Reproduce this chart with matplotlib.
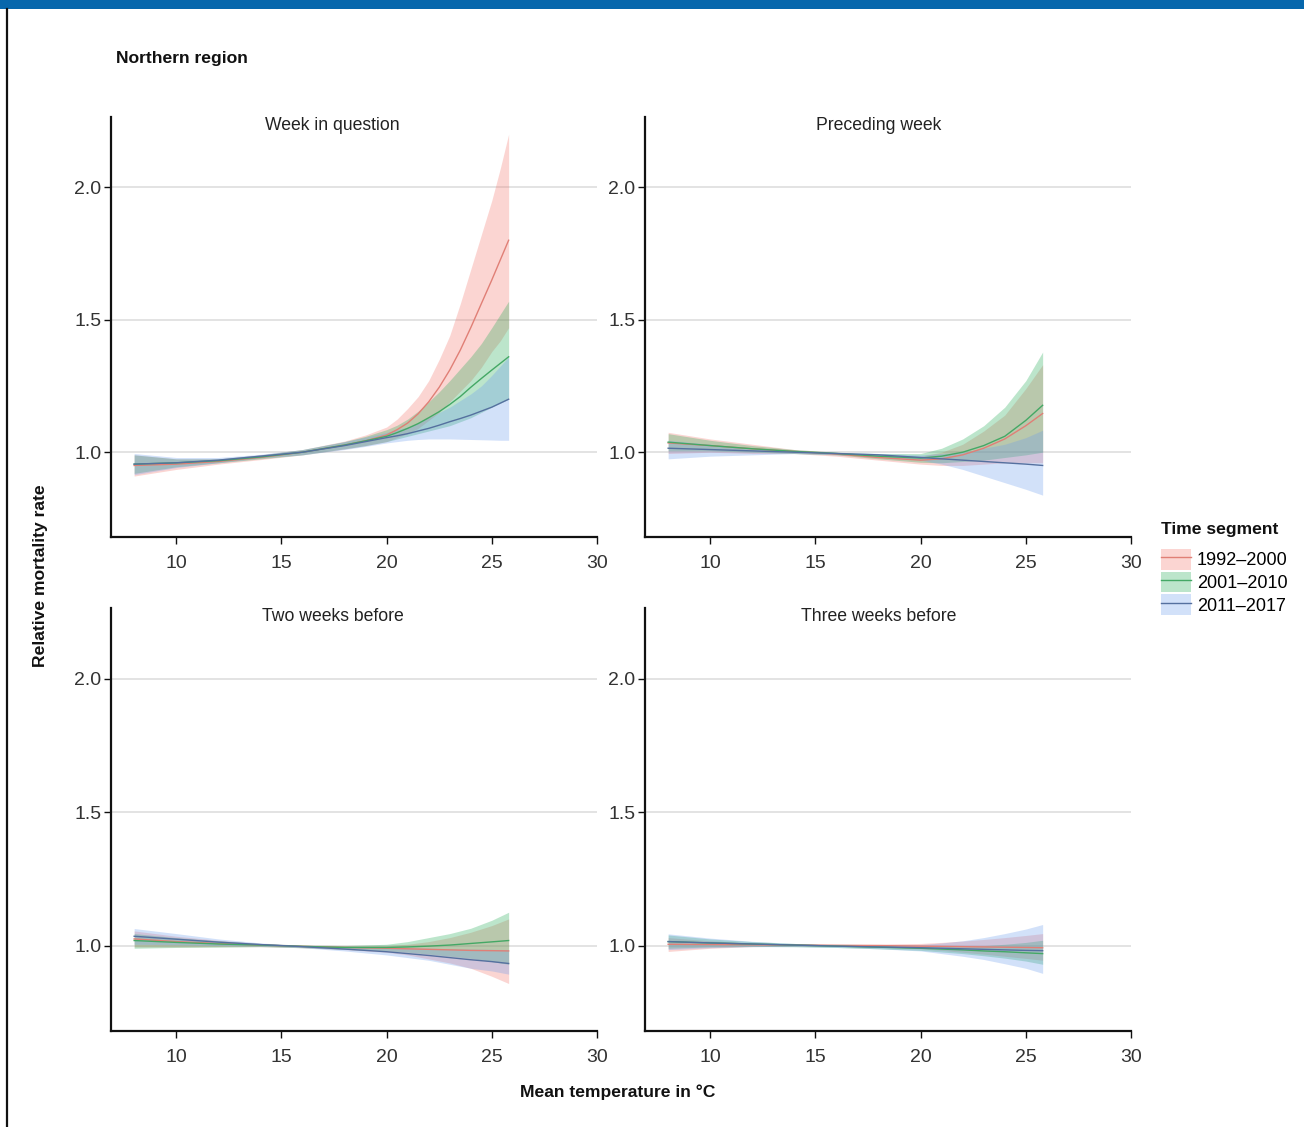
import matplotlib
matplotlib.use("Agg")
import matplotlib.pyplot as plt
from matplotlib.patches import Rectangle, Patch
from matplotlib.lines import Line2D
from matplotlib.legend_handler import HandlerTuple

plt.rcParams['font.family'] = ['Liberation Sans', 'DejaVu Sans']

# ---------------- data ----------------
segments = ["1992–2000", "2001–2010", "2011–2017"]
panel_titles = ["Week in question", "Preceding week", "Two weeks before", "Three weeks before"]
x_ticks = [10, 15, 20, 25, 30]
y_ticks = [1.0, 1.5, 2.0]

# Week in question (denser sampling where the curves bend)
wq_temps   = [8, 10, 12, 14, 16, 18, 19, 20, 20.5, 21, 21.5, 22, 22.5, 23, 23.5, 24, 24.5, 25, 25.4, 25.8]
wq_red     = [0.950, 0.955, 0.965, 0.980, 1.000, 1.027, 1.043, 1.065, 1.085, 1.110, 1.145, 1.190, 1.245, 1.310, 1.385, 1.470, 1.560, 1.650, 1.725, 1.800]
wq_red_hi  = [0.990, 0.975, 0.975, 0.990, 1.010, 1.042, 1.065, 1.095, 1.125, 1.165, 1.210, 1.270, 1.350, 1.440, 1.560, 1.690, 1.820, 1.950, 2.070, 2.200]
wq_red_lo  = [0.910, 0.935, 0.955, 0.972, 0.990, 1.012, 1.025, 1.040, 1.055, 1.070, 1.090, 1.120, 1.150, 1.190, 1.230, 1.270, 1.320, 1.380, 1.420, 1.470]
wq_grn     = [0.955, 0.960, 0.968, 0.982, 1.000, 1.027, 1.043, 1.060, 1.074, 1.090, 1.108, 1.130, 1.153, 1.180, 1.210, 1.245, 1.278, 1.310, 1.335, 1.360]
wq_grn_hi  = [0.990, 0.975, 0.975, 0.990, 1.010, 1.040, 1.060, 1.085, 1.102, 1.125, 1.155, 1.190, 1.228, 1.270, 1.315, 1.360, 1.410, 1.470, 1.520, 1.570]
wq_grn_lo  = [0.920, 0.945, 0.960, 0.975, 0.990, 1.013, 1.025, 1.040, 1.050, 1.060, 1.070, 1.080, 1.090, 1.100, 1.115, 1.130, 1.150, 1.170, 1.185, 1.200]
wq_blu     = [0.955, 0.960, 0.970, 0.985, 1.000, 1.025, 1.040, 1.055, 1.062, 1.070, 1.080, 1.090, 1.102, 1.115, 1.127, 1.140, 1.155, 1.170, 1.185, 1.200]
wq_blu_hi  = [0.995, 0.980, 0.980, 0.992, 1.010, 1.040, 1.057, 1.075, 1.085, 1.095, 1.110, 1.130, 1.150, 1.170, 1.195, 1.220, 1.250, 1.290, 1.325, 1.360]
wq_blu_lo  = [0.915, 0.942, 0.960, 0.978, 0.990, 1.010, 1.022, 1.035, 1.040, 1.045, 1.048, 1.050, 1.050, 1.050, 1.049, 1.048, 1.047, 1.046, 1.045, 1.045]

temps = [8, 10, 12, 14, 16, 18, 20, 21, 22, 23, 24, 25, 25.8]

# Preceding week
pw_red     = [1.035, 1.025, 1.013, 1.003, 0.993, 0.980, 0.970, 0.975, 0.990, 1.015, 1.050, 1.100, 1.146]
pw_red_hi  = [1.075, 1.050, 1.030, 1.010, 1.000, 0.990, 0.985, 1.000, 1.030, 1.080, 1.140, 1.240, 1.330]
pw_red_lo  = [0.995, 1.000, 0.995, 0.995, 0.985, 0.970, 0.955, 0.950, 0.950, 0.955, 0.960, 0.960, 0.960]
pw_grn     = [1.038, 1.025, 1.013, 1.003, 0.995, 0.985, 0.978, 0.985, 1.000, 1.025, 1.060, 1.120, 1.177]
pw_grn_hi  = [1.070, 1.045, 1.025, 1.010, 1.000, 0.995, 0.995, 1.015, 1.050, 1.100, 1.170, 1.270, 1.378]
pw_grn_lo  = [1.005, 1.005, 1.000, 0.995, 0.990, 0.975, 0.962, 0.960, 0.965, 0.970, 0.980, 0.990, 1.000]
pw_blu     = [1.015, 1.010, 1.005, 1.000, 0.995, 0.990, 0.980, 0.975, 0.970, 0.965, 0.960, 0.955, 0.950]
pw_blu_hi  = [1.045, 1.030, 1.015, 1.005, 1.000, 0.995, 0.990, 0.995, 1.000, 1.015, 1.030, 1.055, 1.083]
pw_blu_lo  = [0.975, 0.985, 0.990, 0.995, 0.990, 0.985, 0.970, 0.955, 0.935, 0.910, 0.885, 0.860, 0.838]

# Two weeks before
tw_red     = [1.025, 1.015, 1.008, 1.002, 0.997, 0.993, 0.990, 0.988, 0.986, 0.984, 0.982, 0.981, 0.980]
tw_red_hi  = [1.055, 1.035, 1.020, 1.008, 1.002, 1.000, 1.000, 1.005, 1.015, 1.030, 1.050, 1.075, 1.100]
tw_red_lo  = [0.995, 0.995, 0.996, 0.996, 0.992, 0.985, 0.975, 0.965, 0.950, 0.935, 0.915, 0.885, 0.858]
tw_grn     = [1.019, 1.012, 1.006, 1.002, 0.997, 0.993, 0.993, 0.995, 0.998, 1.002, 1.008, 1.014, 1.019]
tw_grn_hi  = [1.045, 1.030, 1.018, 1.008, 1.002, 1.000, 1.005, 1.015, 1.030, 1.045, 1.065, 1.095, 1.125]
tw_grn_lo  = [0.990, 0.993, 0.994, 0.996, 0.992, 0.986, 0.980, 0.975, 0.968, 0.960, 0.952, 0.940, 0.930]
tw_blu     = [1.035, 1.024, 1.013, 1.004, 0.996, 0.987, 0.977, 0.970, 0.963, 0.955, 0.947, 0.940, 0.933]
tw_blu_hi  = [1.064, 1.045, 1.025, 1.010, 1.000, 0.995, 0.990, 0.990, 0.990, 0.988, 0.987, 0.986, 0.985]
tw_blu_lo  = [1.005, 1.003, 1.000, 0.998, 0.992, 0.980, 0.965, 0.955, 0.945, 0.930, 0.915, 0.905, 0.893]

# Three weeks before
th_red     = [1.005, 1.004, 1.003, 1.002, 1.001, 1.000, 0.998, 0.997, 0.996, 0.995, 0.994, 0.993, 0.992]
th_red_hi  = [1.030, 1.018, 1.010, 1.006, 1.005, 1.006, 1.008, 1.012, 1.017, 1.023, 1.030, 1.038, 1.045]
th_red_lo  = [0.978, 0.990, 0.996, 0.998, 0.997, 0.994, 0.988, 0.982, 0.975, 0.968, 0.960, 0.952, 0.945]
th_grn     = [1.015, 1.010, 1.006, 1.002, 0.998, 0.994, 0.990, 0.987, 0.984, 0.980, 0.977, 0.973, 0.970]
th_grn_hi  = [1.040, 1.025, 1.015, 1.008, 1.003, 1.000, 0.998, 0.998, 0.999, 1.000, 1.005, 1.012, 1.020]
th_grn_lo  = [0.990, 0.995, 0.997, 0.996, 0.993, 0.988, 0.982, 0.976, 0.970, 0.962, 0.953, 0.942, 0.930]
th_blu     = [1.015, 1.010, 1.006, 1.002, 0.998, 0.995, 0.992, 0.990, 0.988, 0.986, 0.984, 0.982, 0.981]
th_blu_hi  = [1.044, 1.028, 1.016, 1.008, 1.003, 1.002, 1.004, 1.010, 1.018, 1.030, 1.045, 1.062, 1.079]
th_blu_lo  = [0.985, 0.992, 0.996, 0.996, 0.993, 0.988, 0.980, 0.970, 0.960, 0.948, 0.932, 0.915, 0.896]

panels = [
    (wq_temps, [(wq_red, wq_red_lo, wq_red_hi), (wq_grn, wq_grn_lo, wq_grn_hi), (wq_blu, wq_blu_lo, wq_blu_hi)]),
    (temps, [(pw_red, pw_red_lo, pw_red_hi), (pw_grn, pw_grn_lo, pw_grn_hi), (pw_blu, pw_blu_lo, pw_blu_hi)]),
    (temps, [(tw_red, tw_red_lo, tw_red_hi), (tw_grn, tw_grn_lo, tw_grn_hi), (tw_blu, tw_blu_lo, tw_blu_hi)]),
    (temps, [(th_red, th_red_lo, th_red_hi), (th_grn, th_grn_lo, th_grn_hi), (th_blu, th_blu_lo, th_blu_hi)]),
]

fill_colors = ["#F2766D", "#22AA55", "#6C9CEE"]
fill_alpha = 0.30
line_colors = ["#E07F76", "#44A865", "#55709F"]

# ---------------- figure ----------------
W, H = 1304, 1127
fig = plt.figure(figsize=(W / 100, H / 100), dpi=100)

def fx(px):
    return px / W

def fy(py):
    return 1 - py / H

# decorations: blue top bar, left border line
fig.add_artist(Rectangle((0, fy(9)), 1, 9 / H, transform=fig.transFigure,
                         facecolor="#0767AC", edgecolor="none"))
fig.add_artist(Line2D([fx(7), fx(7)], [0, fy(9)], transform=fig.transFigure,
                      color="#111111", linewidth=1.6))

ax_boxes = [
    (111, 117, 597, 537),
    (645, 117, 1131, 537),
    (111, 608, 597, 1031),
    (645, 608, 1131, 1031),
]
title_centers = [332, 879, 333, 879]

tick_color = "#333333"
for i, (l, t, r, b) in enumerate(ax_boxes):
    ax = fig.add_axes([fx(l), fy(b), fx(r) - fx(l), (b - t) / H])
    xs, series = panels[i]
    for (line, lo, hi), fc, lc in zip(series, fill_colors, line_colors):
        ax.fill_between(xs, lo, hi, color=fc, alpha=fill_alpha, linewidth=0)
        ax.plot(xs, line, color=lc, linewidth=1.0)
    ax.set_xlim(6.9, 30)
    ax.set_ylim(0.68, 2.265)
    ax.set_xticks(x_ticks)
    ax.set_yticks(y_ticks)
    ax.set_yticklabels([f"{v:.1f}" for v in y_ticks])
    ax.grid(axis="y", color="#e3e3e3", linewidth=1.4)
    ax.set_axisbelow(True)
    for s in ["top", "right"]:
        ax.spines[s].set_visible(False)
    for s in ["left", "bottom"]:
        ax.spines[s].set_linewidth(1.6)
        ax.spines[s].set_color("#111111")
    ax.tick_params(axis="both", labelsize=14, colors="#111111", labelcolor=tick_color,
                   length=5, width=1.0, direction="out")
    ax.tick_params(axis="x", pad=8)
    ax.tick_params(axis="y", pad=2)
    fig.text(fx(title_centers[i]), fy(t), panel_titles[i], ha="center", va="top",
             fontsize=12.7, color="#222222")

fig.text(fx(116), fy(63), "Northern region", ha="left", va="baseline",
         fontsize=12.6, fontweight="bold", color="#111111")
fig.text(fx(41), fy(576), "Relative mortality rate", rotation=90, ha="center", va="center",
         fontsize=12.6, fontweight="bold", color="#111111")
fig.text(fx(618), fy(1097), "Mean temperature in °C", ha="center", va="baseline",
         fontsize=12.6, fontweight="bold", color="#111111")
fig.text(fx(1161), fy(534), "Time segment", ha="left", va="baseline",
         fontsize=12.6, fontweight="bold", color="#111111")

handles = []
for fc, lc in zip(fill_colors, line_colors):
    handles.append((Patch(facecolor=fc, alpha=fill_alpha, edgecolor="none"),
                    Line2D([0], [0], color=lc, linewidth=1.0)))
fs = 13
fpx = fs * 100 / 72
leg = fig.legend(handles, segments, loc="upper left",
                 bbox_to_anchor=(fx(1161), fy(549)), frameon=False,
                 fontsize=fs,
                 handler_map={tuple: HandlerTuple(ndivide=1, pad=0)},
                 handlelength=30 / fpx, handleheight=25 / fpx, labelspacing=2 / fpx,
                 handletextpad=6 / fpx, borderaxespad=0, borderpad=0)

fig.savefig("out.png", dpi=100)
